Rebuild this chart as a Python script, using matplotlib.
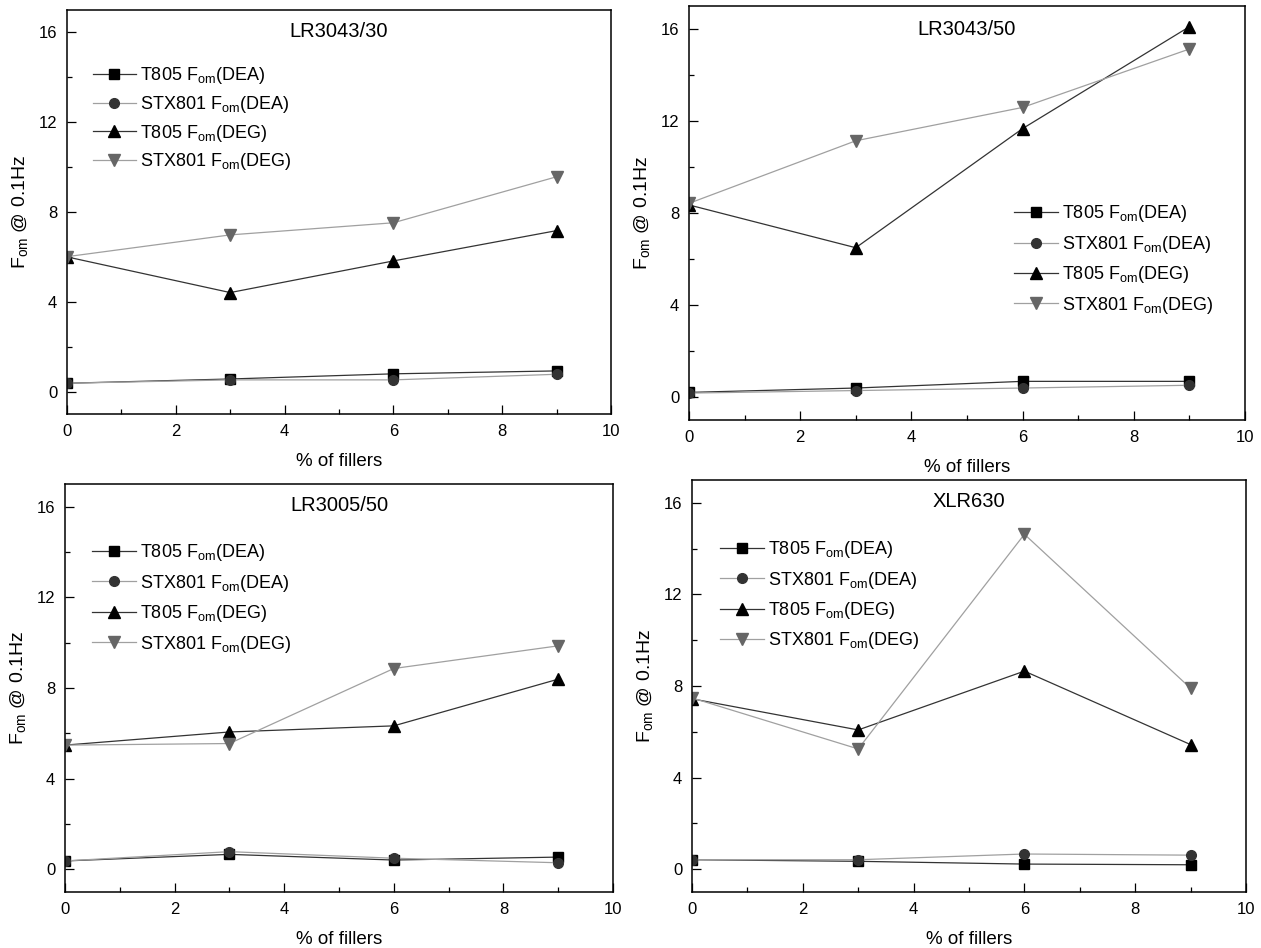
import numpy as np
import matplotlib
matplotlib.use("Agg")
import matplotlib.pyplot as plt

plt.rcParams['font.family'] = ['Liberation Sans', 'DejaVu Sans']
plt.rcParams['mathtext.fontset'] = 'custom'
plt.rcParams['mathtext.rm'] = 'Liberation Sans'
plt.rcParams['mathtext.it'] = 'Liberation Sans:italic'

# % of fillers
fillers = [0, 3, 6, 9]

titles = ['LR3043/30', 'LR3043/50', 'LR3005/50', 'XLR630']

# F_om @ 0.1Hz, one list per panel
t805_dea = [[0.37, 0.56, 0.79, 0.92],
            [0.20, 0.39, 0.68, 0.68],
            [0.37, 0.66, 0.41, 0.54],
            [0.41, 0.34, 0.22, 0.19]]
stx801_dea = [[0.37, 0.52, 0.52, 0.77],
              [0.17, 0.28, 0.39, 0.51],
              [0.37, 0.78, 0.49, 0.29],
              [0.41, 0.41, 0.66, 0.61]]
t805_deg = [[6.00, 4.41, 5.82, 7.17],
            [8.35, 6.49, 11.67, 16.10],
            [5.48, 6.06, 6.33, 8.39],
            [7.44, 6.08, 8.65, 5.44]]
stx801_deg = [[6.01, 6.98, 7.52, 9.57],
              [8.42, 11.14, 12.59, 15.13],
              [5.48, 5.55, 8.86, 9.86],
              [7.48, 5.25, 14.63, 7.90]]

labels = [r'T805 F$_{\mathrm{om}}$(DEA)', r'STX801 F$_{\mathrm{om}}$(DEA)',
          r'T805 F$_{\mathrm{om}}$(DEG)', r'STX801 F$_{\mathrm{om}}$(DEG)']

W, H = 1261, 948
# axes boxes in pixels: left, right, top, bottom
boxes = [(67, 611, 10, 414), (689, 1245, 6, 420),
         (65, 613, 484, 892), (692, 1246, 480, 892)]
# legend anchor (axes fraction, upper left)
leg_pos = [(0.047, 0.863), (0.585, 0.523), (0.05, 0.857), (0.051, 0.856)]
title_y = [0.948, 0.944, 0.947, 0.947]
# row spacing differs a little between panels
leg_space = [0.42, 0.52, 0.52, 0.52]

fig = plt.figure(figsize=(W / 100, H / 100), dpi=100)

for i in range(4):
    l, r, t, b = boxes[i]
    ax = fig.add_axes([l / W, 1 - b / H, (r - l) / W, (b - t) / H])
    ax.plot(fillers, t805_dea[i], color='#333333', lw=0.9, marker='s', ms=6.5,
            mfc='black', mec='black', label=labels[0])
    ax.plot(fillers, stx801_dea[i], color='#a0a0a0', lw=0.9, marker='o', ms=7,
            mfc='#333333', mec='#333333', label=labels[1])
    ax.plot(fillers, t805_deg[i], color='#333333', lw=0.9, marker='^', ms=8,
            mfc='black', mec='black', label=labels[2])
    ax.plot(fillers, stx801_deg[i], color='#a0a0a0', lw=0.9, marker='v', ms=8,
            mfc='#666666', mec='#666666', label=labels[3])

    ax.set_xlim(0, 10)
    ax.set_ylim(-1, 17)
    ax.set_xticks([0, 2, 4, 6, 8, 10])
    ax.set_xticks([1, 3, 5, 7, 9], minor=True)
    ax.set_yticks([0, 4, 8, 12, 16])
    ax.set_yticks([2, 6, 10, 14], minor=True)
    ax.tick_params(which='both', direction='in', top=False, right=False,
                   labelsize=12, pad=7, width=0.9)
    ax.tick_params(which='major', length=6.5)
    ax.tick_params(which='minor', length=3.5)
    for s in ax.spines.values():
        s.set_linewidth(1.1)

    ax.set_xlabel('% of fillers', fontsize=13.5, labelpad=10)
    ax.set_ylabel(r'F$_{\mathrm{om}}$ @ 0.1Hz', fontsize=14, labelpad=6)
    ax.text(0.5, title_y[i], titles[i], transform=ax.transAxes,
            ha='center', va='center', fontsize=14.5)

    ax.legend(loc='upper left', bbox_to_anchor=leg_pos[i], frameon=False,
              fontsize=13, handlelength=2.4, handletextpad=0.25,
              labelspacing=leg_space[i], borderpad=0, borderaxespad=0)

fig.savefig('out.png', dpi=100)
